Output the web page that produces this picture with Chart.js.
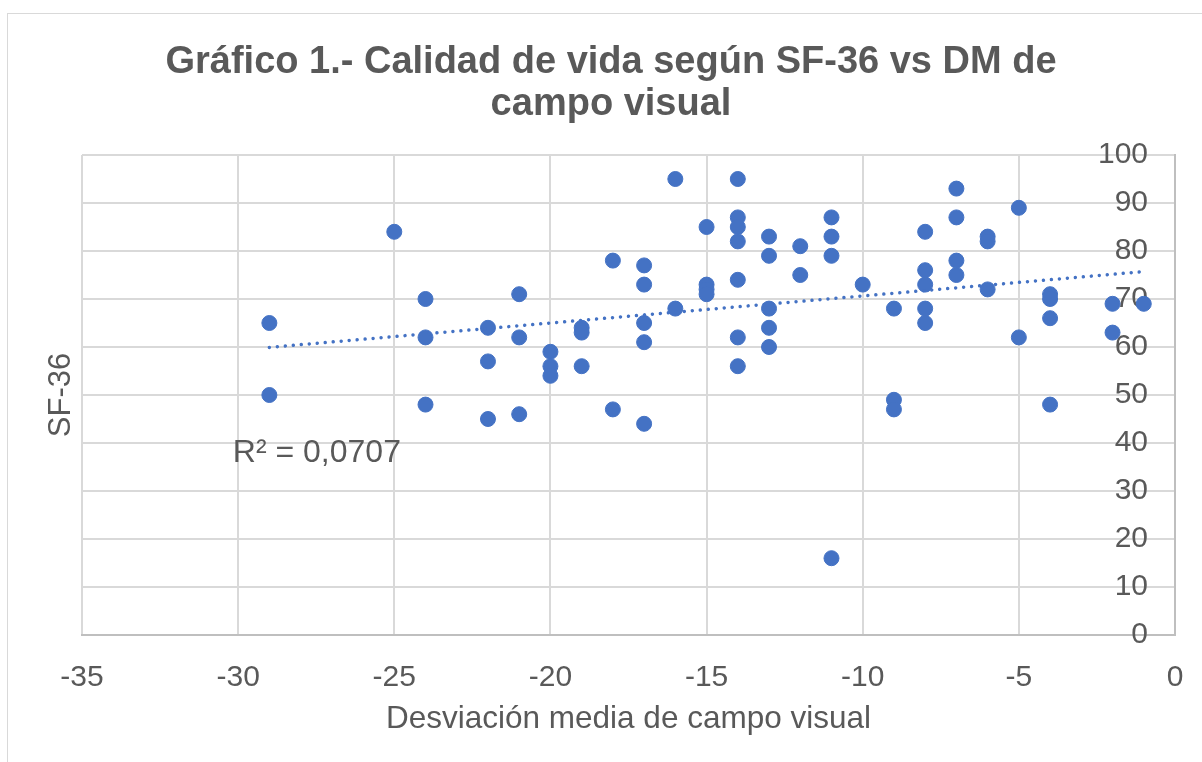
<!DOCTYPE html>
<html>
<head>
<meta charset="utf-8">
<script src="https://cdn.jsdelivr.net/npm/chart.js@4.4.1/dist/chart.umd.min.js"></script>
<style>
  html, body { margin: 0; padding: 0; background: #fff; overflow: hidden; }
  #frame { position: absolute; left: 7px; top: 13px; width: 1400px; height: 900px; border: 1px solid #d9d9d9; }
  #wrap  { position: absolute; left: 0; top: 0; width: 1202px; height: 762px; }
</style>
</head>
<body>
<div id="frame"></div>
<div id="wrap"><canvas id="c" width="1202" height="762"></canvas></div>
<script>
/* ── Datos: desviación media (DM) de campo visual vs puntuación SF-36 ── */
const DM = [
  -29, -29,
  -25,
  -24, -24, -24,
  -22, -22, -22,
  -21, -21, -21,
  -20, -20, -20,
  -19, -19, -19,
  -18, -18,
  -17, -17, -17, -17, -17,
  -16, -16,
  -15, -15, -15, -15,
  -14, -14, -14, -14, -14, -14, -14,
  -13, -13, -13, -13, -13,
  -12, -12,
  -11, -11, -11, -11,
  -10,
  -9, -9, -9,
  -8, -8, -8, -8, -8,
  -7, -7, -7, -7,
  -6, -6, -6,
  -5, -5,
  -4, -4, -4, -4,
  -2, -2,
  -1
];
const SF36 = [
  65, 50,
  84,
  70, 62, 48,
  64, 57, 45,
  71, 62, 46,
  59, 56, 54,
  64, 63, 56,
  78, 47,
  77, 73, 65, 61, 44,
  95, 68,
  85, 73, 72, 71,
  95, 87, 85, 82, 74, 62, 56,
  83, 79, 68, 64, 60,
  81, 75,
  87, 83, 79, 16,
  73,
  68, 49, 47,
  84, 76, 73, 68, 65,
  93, 87, 78, 75,
  83, 82, 72,
  89, 62,
  71, 70, 66, 48,
  69, 63,
  69
];

const X_RANGE = [-35, 0];
const X_STEP  = 5;
const Y_RANGE = [0, 100];
const Y_STEP  = 10;

const TITLE    = ['Gráfico 1.- Calidad de vida según SF-36 vs DM de', 'campo visual'];
const X_TITLE  = 'Desviación media de campo visual';
const Y_TITLE  = 'SF-36';
const R2_LABEL = 'R² = 0,0707';
const R2_AT    = [-30.17, 37.9];   // anclaje de la etiqueta (coordenadas de datos)

const FONT  = '"Liberation Sans", Arial, sans-serif';
const GREY  = '#595959';
const BLUE  = '#4472C4';
const GRID  = '#d9d9d9';
const AXIS  = '#bfbfbf';

/* ── Línea de tendencia (mínimos cuadrados) ── */
function linFit(xs, ys) {
  const n  = xs.length;
  const mx = xs.reduce((a, b) => a + b, 0) / n;
  const my = ys.reduce((a, b) => a + b, 0) / n;
  let sxy = 0, sxx = 0;
  xs.forEach((x, i) => { sxy += (x - mx) * (ys[i] - my); sxx += (x - mx) * (x - mx); });
  const m = sxy / sxx;
  return { m, b: my - m * mx };
}
const fit  = linFit(DM, SF36);
const xLo  = Math.min(...DM), xHi = Math.max(...DM);
const trend = [xLo, xHi].map(x => ({ x, y: fit.b + fit.m * x }));

const r2Label = {
  id: 'r2Label',
  afterDatasetsDraw(chart) {
    const { ctx, scales: { x, y } } = chart;
    ctx.save();
    ctx.font = '32px ' + FONT;
    ctx.fillStyle = GREY;
    ctx.textAlign = 'left';
    ctx.textBaseline = 'middle';
    ctx.fillText(R2_LABEL, x.getPixelForValue(R2_AT[0]), y.getPixelForValue(R2_AT[1]));
    ctx.restore();
  }
};

Chart.defaults.font.family = FONT;
Chart.defaults.color = GREY;

new Chart(document.getElementById('c'), {
  type: 'scatter',
  data: {
    datasets: [
      {
        label: 'Tendencia',
        data: trend,
        showLine: true,
        borderColor: BLUE,
        borderWidth: 3.5,
        borderDash: [0.01, 8],
        borderCapStyle: 'round',
        pointRadius: 0,
        order: 0,
      },
      {
        label: 'SF-36',
        data: DM.map((x, i) => ({ x, y: SF36[i] })),
        backgroundColor: BLUE,
        borderColor: BLUE,
        borderWidth: 1,
        pointRadius: 7.5,
        order: 1,
      },
    ],
  },
  options: {
    responsive: false,
    animation: false,
    layout: { padding: { left: 20, right: 0, top: 0, bottom: 0 } },
    plugins: {
      legend: { display: false },
      tooltip: { enabled: false },
      title: {
        display: true,
        text: TITLE,
        color: GREY,
        font: { size: 38, weight: 'bold', lineHeight: 1.1 },
        padding: { top: 42, bottom: 29.4 },
      },
    },
    scales: {
      x: {
        type: 'linear', position: 'bottom',
        min: X_RANGE[0], max: X_RANGE[1],
        ticks: { stepSize: X_STEP, font: { size: 30 }, color: GREY, padding: 25 },
        grid: { color: c => c.tick && c.tick.value === X_RANGE[1] ? AXIS : GRID, lineWidth: 2, drawTicks: false },
        border: { color: AXIS, width: 2 },
        title: { display: true, text: X_TITLE, color: GREY, font: { size: 31.5 }, padding: { top: 0, bottom: 24 } },
        afterFit: s => { s.height = 127; s.paddingRight = 0; },
      },
      y: {
        type: 'linear', position: 'left',
        min: Y_RANGE[0], max: Y_RANGE[1],
        ticks: { display: false, stepSize: Y_STEP },
        grid: { color: c => c.tick && c.tick.value === Y_RANGE[0] ? 'rgba(0,0,0,0)' : GRID, lineWidth: 2, drawTicks: false },
        border: { display: false },
        title: { display: true, text: Y_TITLE, color: GREY, font: { size: 31 }, padding: { top: 23, bottom: 0 } },
        afterFit: s => { s.width = 62; },
      },
      yR: {
        type: 'linear', position: 'right',
        min: Y_RANGE[0], max: Y_RANGE[1],
        ticks: { stepSize: Y_STEP, mirror: true, padding: -27, font: { size: 30 }, color: GREY },
        grid: { display: false, drawTicks: false },
        border: { color: AXIS, width: 2 },
        afterFit: s => { s.width = 27; },
      },
    },
  },
  plugins: [r2Label],
});
</script>
</body>
</html>
